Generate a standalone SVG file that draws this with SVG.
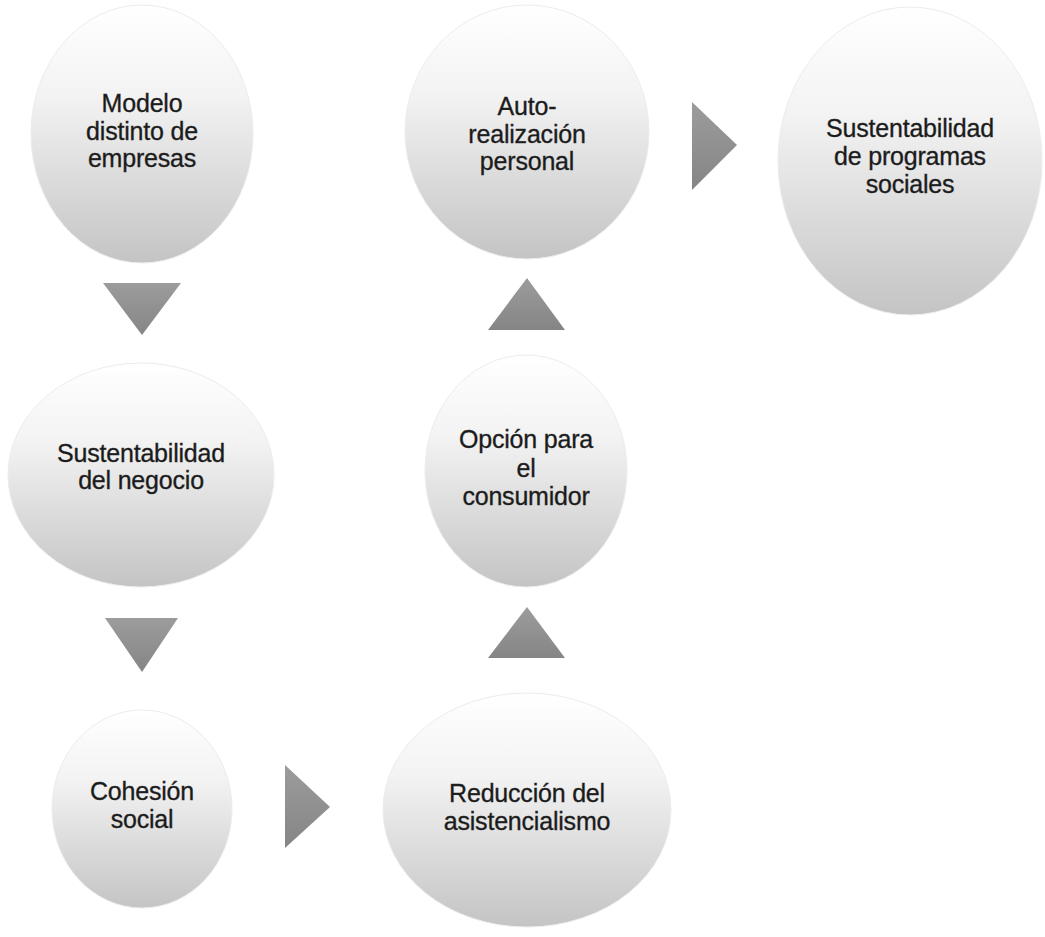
<svg xmlns="http://www.w3.org/2000/svg" width="1045" height="937" viewBox="0 0 1045 937">
<style>
.node ellipse{fill:url(#g);stroke:#ececec;stroke-width:1}
.node text{font-family:"Liberation Sans",Arial,sans-serif;font-size:25px;fill:#1a1a1a;stroke:#2a2a2a;stroke-width:0.35;text-anchor:middle;letter-spacing:-0.2px}
.arr polygon{fill:url(#ga)}
</style>
<defs>
<linearGradient id="g" x1="0" y1="0" x2="0" y2="1">
<stop offset="0" stop-color="#ffffff"/>
<stop offset="0.35" stop-color="#f3f3f3"/>
<stop offset="1" stop-color="#c4c4c4"/>
</linearGradient>
<linearGradient id="ga" x1="0" y1="0" x2="0" y2="1">
<stop offset="0" stop-color="#9c9c9c"/>
<stop offset="1" stop-color="#858585"/>
</linearGradient>
</defs>
<rect width="1045" height="937" fill="#ffffff"/>
<g id="connectors" class="arr">
<polygon points="103,283 181,283 142,335"/>
<polygon points="105,618 178,618 142,672"/>
<polygon points="285,765 330,807 285,848"/>
<polygon points="488,658 565,658 527,607"/>
<polygon points="488,330 565,330 527,278"/>
<polygon points="692,102 737,145 692,190"/>
</g>
<g id="n1" class="node">
<ellipse cx="142" cy="134" rx="111" ry="129"/>
<text x="142" y="112">Modelo</text>
<text x="142" y="140">distinto de</text>
<text x="142" y="167">empresas</text>
</g>
<g id="n2" class="node">
<ellipse cx="141" cy="475" rx="133" ry="112"/>
<text x="141" y="462">Sustentabilidad</text>
<text x="141" y="489">del negocio</text>
</g>
<g id="n3" class="node">
<ellipse cx="142" cy="809" rx="90" ry="99"/>
<text x="142" y="800">Cohesión</text>
<text x="142" y="828">social</text>
</g>
<g id="n4" class="node">
<ellipse cx="527" cy="810" rx="144" ry="117"/>
<text x="527" y="802">Reducción del</text>
<text x="527" y="830">asistencialismo</text>
</g>
<g id="n5" class="node">
<ellipse cx="526" cy="471" rx="101" ry="116"/>
<text x="526" y="448">Opción para</text>
<text x="526" y="477">el</text>
<text x="526" y="505">consumidor</text>
</g>
<g id="n6" class="node">
<ellipse cx="527" cy="132" rx="122" ry="127"/>
<text x="527" y="115">Auto-</text>
<text x="527" y="143">realización</text>
<text x="527" y="170">personal</text>
</g>
<g id="n7" class="node">
<ellipse cx="910" cy="161" rx="132" ry="154"/>
<text x="910" y="137">Sustentabilidad</text>
<text x="910" y="165">de programas</text>
<text x="910" y="193">sociales</text>
</g>
</svg>
